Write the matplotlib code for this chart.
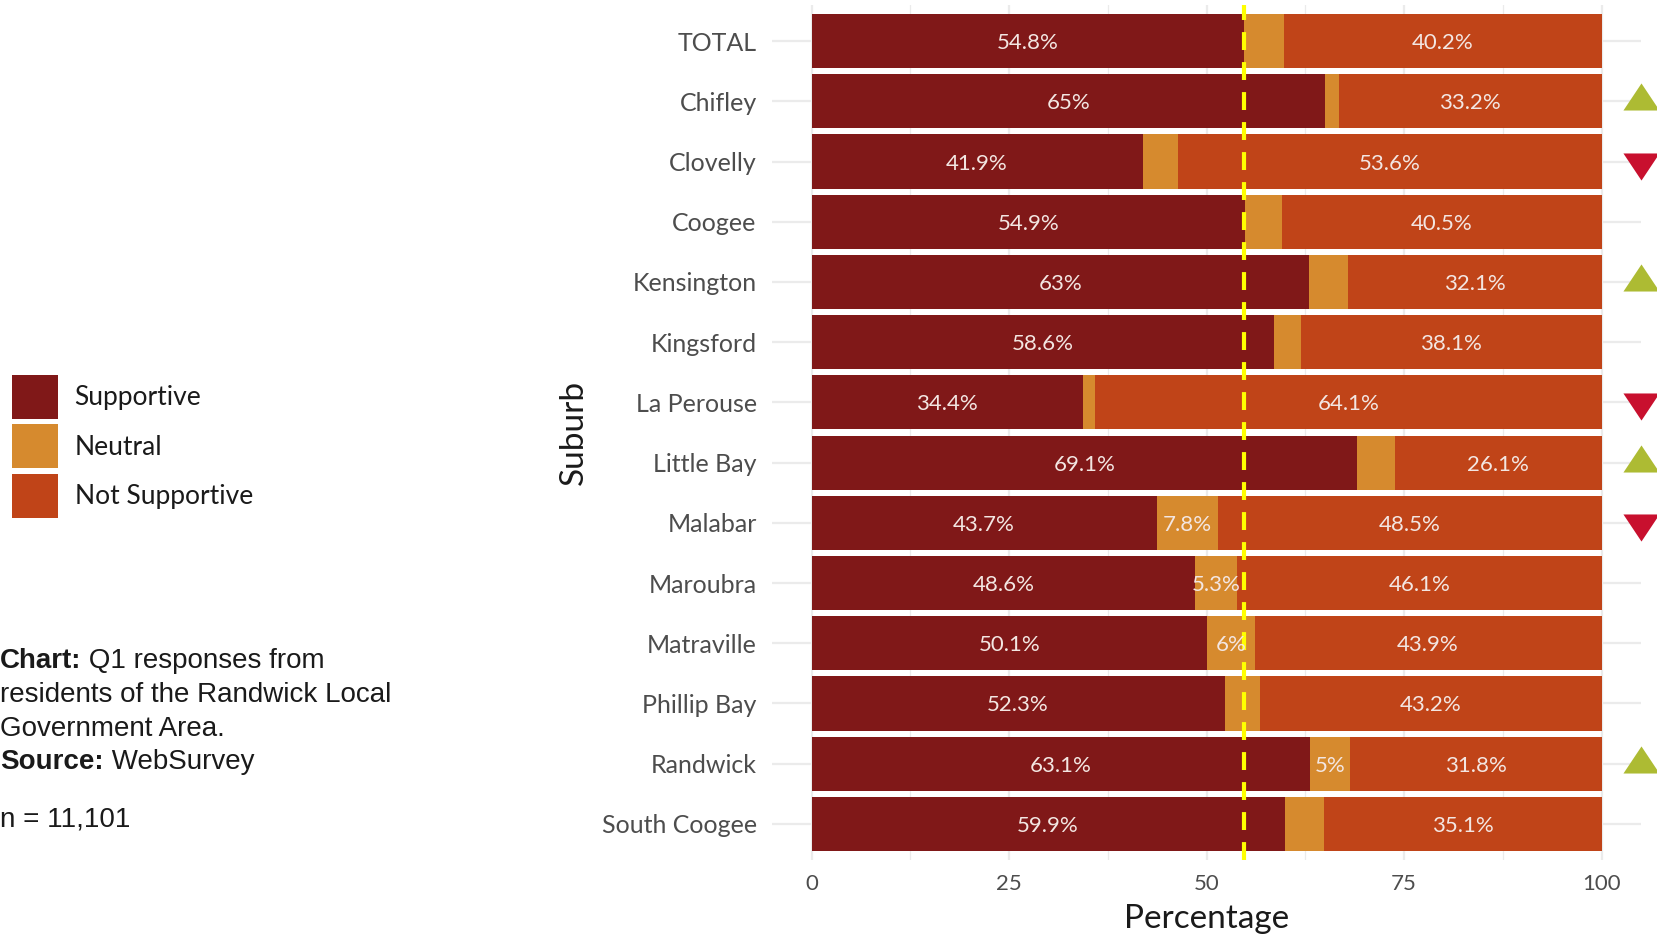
import matplotlib
matplotlib.use('Agg')
import matplotlib.pyplot as plt
from matplotlib.path import Path
from matplotlib.patches import Patch
from matplotlib.ticker import MultipleLocator

# ---------------- data ----------------
suburbs = ['TOTAL', 'Chifley', 'Clovelly', 'Coogee', 'Kensington', 'Kingsford',
           'La Perouse', 'Little Bay', 'Malabar', 'Maroubra', 'Matraville',
           'Phillip Bay', 'Randwick', 'South Coogee']
supportive = [54.8, 65.0, 41.9, 54.9, 63.0, 58.6, 34.4, 69.1, 43.7, 48.6, 50.1, 52.3, 63.1, 59.9]
neutral = [5.0, 1.8, 4.5, 4.6, 4.9, 3.3, 1.5, 4.8, 7.8, 5.3, 6.0, 4.5, 5.1, 5.0]
not_supportive = [40.2, 33.2, 53.6, 40.5, 32.1, 38.1, 64.1, 26.1, 48.5, 46.1, 43.9, 43.2, 31.8, 35.1]
neutral_labels = ['', '', '', '', '', '', '', '', '7.8%', '5.3%', '6%', '', '5%', '']
change = ['', 'up', 'down', '', 'up', '', 'down', 'up', 'down', '', '', '', 'up', '']
reference_value = supportive[0]
series_names = ['Supportive', 'Neutral', 'Not Supportive']
x_ticks = [0, 25, 50, 75, 100]

# ---------------- style ----------------
C_SUP = '#801818'
C_NEU = '#D68A2E'
C_NOT = '#C04418'
C_UP = '#ADBB33'
C_DOWN = '#C8102E'
LABEL_C = '#F3E6E2'
TICK_C = '#4D4D4D'
GRID_C = '#EBEBEB'
FONT = 'Lato'

fig = plt.figure(figsize=(16.57, 9.34), dpi=100)
fig.patch.set_facecolor('white')
W, H = 1657, 934
ax = fig.add_axes([772 / W, 1 - 860 / H, (1641 - 772) / W, (860 - 5) / H])
ax.set_facecolor('white')

y = list(range(len(suburbs)))
left_n = [s for s in supportive]
left_ns = [s + n for s, n in zip(supportive, neutral)]

ax.barh(y, supportive, height=0.9, color=C_SUP, zorder=2, linewidth=0)
ax.barh(y, neutral, left=left_n, height=0.9, color=C_NEU, zorder=2, linewidth=0)
ax.barh(y, not_supportive, left=left_ns, height=0.9, color=C_NOT, zorder=2, linewidth=0)

LS = 16
for i in y:
    ax.text(supportive[i] / 2, i, f"{supportive[i]:g}%", ha='center', va='center_baseline',
            color=LABEL_C, fontsize=LS, family=FONT, zorder=4)
    ax.text(left_ns[i] + not_supportive[i] / 2, i, f"{not_supportive[i]:g}%", ha='center',
            va='center_baseline', color=LABEL_C, fontsize=LS, family=FONT, zorder=4)
    if neutral_labels[i]:
        ax.text(left_n[i] + neutral[i] / 2, i, neutral_labels[i], ha='center',
                va='center_baseline', color=LABEL_C, fontsize=LS, family=FONT, zorder=4)

# reference line (TOTAL supportive)
ln = ax.axvline(reference_value, color='#FFFF00', lw=3.0, zorder=3)
ln.set_dashes((4.3, 2.9))

ax.set_xlim(-5, 105)
ax.set_ylim(len(suburbs) - 0.4, -0.6)

# triangles at right edge
up_marker = Path([(-1, -0.5), (1, -0.5), (0, 1.0), (-1, -0.5)],
                 [Path.MOVETO, Path.LINETO, Path.LINETO, Path.CLOSEPOLY])
down_marker = Path([(-1, 0.5), (1, 0.5), (0, -1.0), (-1, 0.5)],
                   [Path.MOVETO, Path.LINETO, Path.LINETO, Path.CLOSEPOLY])
xr = ax.get_xlim()[1]
up_y = [i for i in y if change[i] == 'up']
down_y = [i for i in y if change[i] == 'down']
ax.scatter([xr] * len(up_y), up_y, marker=up_marker, s=26 ** 2, color=C_UP,
           clip_on=False, zorder=6, linewidths=0)
ax.scatter([xr] * len(down_y), down_y, marker=down_marker, s=26 ** 2, color=C_DOWN,
           clip_on=False, zorder=6, linewidths=0)

# axes / grid
ax.set_xticks(x_ticks)
ax.xaxis.set_minor_locator(MultipleLocator(12.5))
ax.set_yticks(y)
ax.set_yticklabels(suburbs)
ax.grid(which='major', axis='both', color=GRID_C, lw=1.6, zorder=0)
ax.grid(which='minor', axis='x', color=GRID_C, lw=0.9, zorder=0)
ax.set_axisbelow(True)
for sp in ax.spines.values():
    sp.set_visible(False)
ax.tick_params(axis='both', which='both', length=0)
ax.tick_params(axis='y', pad=11, labelsize=18, labelcolor=TICK_C)
ax.tick_params(axis='x', pad=10, labelsize=16, labelcolor=TICK_C)
for t in ax.get_xticklabels() + ax.get_yticklabels():
    t.set_family(FONT)

ax.set_xlabel('Percentage', fontsize=24, family=FONT, color='#1A1A1A')
ax.xaxis.set_label_coords(0.5, -0.051)
ax.set_ylabel('Suburb', fontsize=24, family=FONT, color='#1A1A1A')
ax.yaxis.set_label_coords(-0.211, 0.5)

# legend
handles = [Patch(facecolor=c, edgecolor='none') for c in (C_SUP, C_NEU, C_NOT)]
leg = fig.legend(handles, series_names, loc='upper left',
                 bbox_to_anchor=(12 / W, 1 - 375 / H), frameon=False,
                 prop={'family': FONT, 'size': 19}, handlelength=1.75,
                 handleheight=2.19, labelspacing=0.2, handletextpad=0.62,
                 borderpad=0, borderaxespad=0)
for t in leg.get_texts():
    t.set_color('#1A1A1A')

# caption
CAP = 'Liberation Sans'
CS = 20


def two_part(ybase, bold, rest):
    tb = fig.text(0.0, ybase, bold, fontsize=CS, family=CAP, weight='bold',
                  ha='left', va='center', color='#1A1A1A')
    ax.annotate(rest, xy=(1, 0), xycoords=tb, ha='left', va='bottom',
                fontsize=CS, family=CAP, color='#1A1A1A', annotation_clip=False)


two_part(1 - 661 / H, 'Chart:', ' Q1 responses from')
fig.text(0.0, 1 - 695 / H, 'residents of the Randwick Local', fontsize=CS, family=CAP,
         ha='left', va='center', color='#1A1A1A')
fig.text(0.0, 1 - 729 / H, 'Government Area.', fontsize=CS, family=CAP,
         ha='left', va='center', color='#1A1A1A')
two_part(1 - 762 / H, 'Source:', ' WebSurvey')
fig.text(0.0, 1 - 820 / H, 'n = 11,101', fontsize=CS, family=CAP,
         ha='left', va='center', color='#1A1A1A')

fig.savefig('out.png', dpi=100, facecolor='white')
